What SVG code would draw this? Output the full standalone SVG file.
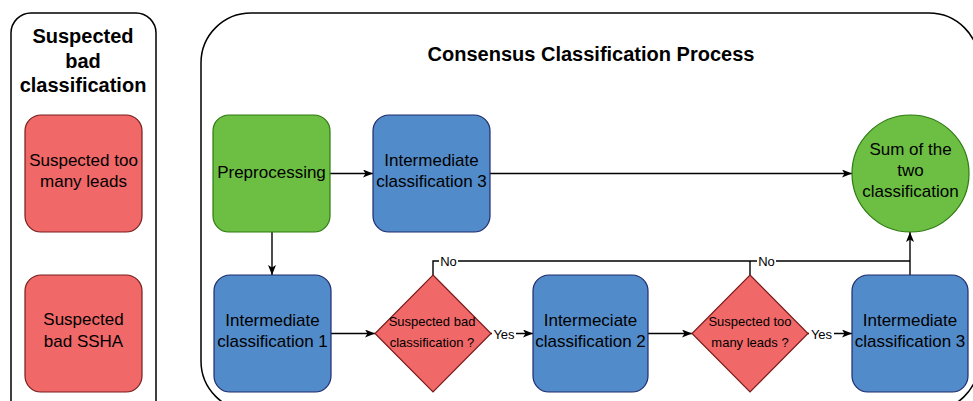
<svg xmlns="http://www.w3.org/2000/svg" width="973" height="401" viewBox="0 0 973 401">
  <style>
    text { font-family: "Liberation Sans", Arial, Helvetica, sans-serif; fill: #000; text-anchor: middle; }
    .title { font-size: 20px; font-weight: bold; }
    .lbl { font-size: 17px; }
    .small { font-size: 13px; }
    .frame { fill: #fff; stroke: #000; stroke-width: 1.5; }
    .red { fill: #F06868; stroke: #7A1C1C; stroke-width: 1.2; }
    .blue { fill: #528BC9; stroke: #1E2B6E; stroke-width: 1.2; }
    .green { fill: #6CBF43; stroke: #2E7A10; stroke-width: 1.2; }
    .edge { fill: none; stroke: #000; stroke-width: 1.4; }
    .bg { fill: #fff; }
  </style>
  <defs>
    <marker id="arrow" viewBox="0 0 10 8" refX="10" refY="4" markerWidth="10" markerHeight="8" markerUnits="userSpaceOnUse" orient="auto">
      <path d="M0,0 L10,4 L0,8 L2.5,4 Z" fill="#000"/>
    </marker>
  </defs>

  <rect width="973" height="401" fill="#fff"/>

  <!-- Legend panel -->
  <g id="legend">
    <rect class="frame" x="11" y="13" width="145" height="410" rx="20"/>
    <text class="title" x="83" y="43">Suspected</text>
    <text class="title" x="83" y="68">bad</text>
    <text class="title" x="83" y="92">classification</text>
  </g>
  <g id="too-many-leads">
    <rect class="red" x="25" y="115" width="117" height="117" rx="16"/>
    <text class="lbl" x="83.5" y="166">Suspected too</text>
    <text class="lbl" x="83.5" y="187">many leads</text>
  </g>
  <g id="bad-ssha">
    <rect class="red" x="25" y="275" width="117" height="117" rx="16"/>
    <text class="lbl" x="83.5" y="325">Suspected</text>
    <text class="lbl" x="83.5" y="347">bad SSHA</text>
  </g>

  <!-- Process panel -->
  <g id="process">
    <rect class="frame" x="201" y="13" width="778" height="398" rx="50"/>
    <text class="title" x="591" y="61">Consensus Classification Process</text>
  </g>

  <!-- Connectors -->
  <g id="connectors">
    <path class="edge" d="M330,173.5 H373" marker-end="url(#arrow)"/>
    <path class="edge" d="M490,173.5 H852" marker-end="url(#arrow)"/>
    <path class="edge" d="M272,232 V275" marker-end="url(#arrow)"/>
    <path class="edge" d="M331,333.5 H375" marker-end="url(#arrow)"/>
    <path class="edge" d="M491,333.5 H533" marker-end="url(#arrow)"/>
    <path class="edge" d="M648,333.5 H692" marker-end="url(#arrow)"/>
    <path class="edge" d="M808,333.5 H852" marker-end="url(#arrow)"/>
    <path class="edge" d="M433,275 V261 H910"/>
    <path class="edge" d="M750,275 V261"/>
    <path class="edge" d="M910,275 V232" marker-end="url(#arrow)"/>
    <!-- edge labels -->
    <rect class="bg" x="439" y="254" width="19" height="14"/>
    <text class="small" x="448.5" y="266">No</text>
    <rect class="bg" x="757" y="254" width="19" height="14"/>
    <text class="small" x="766.5" y="266">No</text>
    <rect class="bg" x="492" y="327" width="24" height="14"/>
    <text class="small" x="504" y="339">Yes</text>
    <rect class="bg" x="809" y="327" width="25" height="14"/>
    <text class="small" x="821.5" y="339">Yes</text>
  </g>

  <!-- Nodes -->
  <g id="preprocessing">
    <rect class="green" x="213" y="115" width="117" height="117" rx="16"/>
    <text class="lbl" x="271.5" y="178">Preprocessing</text>
  </g>
  <g id="intermediate-3-top">
    <rect class="blue" x="373" y="115" width="117" height="117" rx="16"/>
    <text class="lbl" x="431.5" y="166">Intermediate</text>
    <text class="lbl" x="431.5" y="187">classification 3</text>
  </g>
  <g id="sum">
    <circle class="green" cx="910.5" cy="173.5" r="58.5"/>
    <text class="lbl" x="910.5" y="155">Sum of the</text>
    <text class="lbl" x="910.5" y="176">two</text>
    <text class="lbl" x="910.5" y="197">classification</text>
  </g>
  <g id="intermediate-1">
    <rect class="blue" x="214" y="275" width="117" height="117" rx="16"/>
    <text class="lbl" x="272.5" y="326">Intermediate</text>
    <text class="lbl" x="272.5" y="347">classification 1</text>
  </g>
  <g id="decision-bad">
    <polygon class="red" points="433,275 491,333.5 433,392 375,333.5"/>
    <text class="small" x="432" y="326">Suspected bad</text>
    <text class="small" x="432" y="347">classification ?</text>
  </g>
  <g id="intermediate-2">
    <rect class="blue" x="533" y="275" width="115" height="117" rx="16"/>
    <text class="lbl" x="590.5" y="326">Intermeciate</text>
    <text class="lbl" x="590.5" y="347">classification 2</text>
  </g>
  <g id="decision-leads">
    <polygon class="red" points="750,275 808,333.5 750,392 692,333.5"/>
    <text class="small" x="750" y="326">Suspected too</text>
    <text class="small" x="750" y="347">many leads ?</text>
  </g>
  <g id="intermediate-3">
    <rect class="blue" x="852" y="275" width="116" height="117" rx="16"/>
    <text class="lbl" x="910" y="326">Intermediate</text>
    <text class="lbl" x="910" y="347">classification 3</text>
  </g>
</svg>
